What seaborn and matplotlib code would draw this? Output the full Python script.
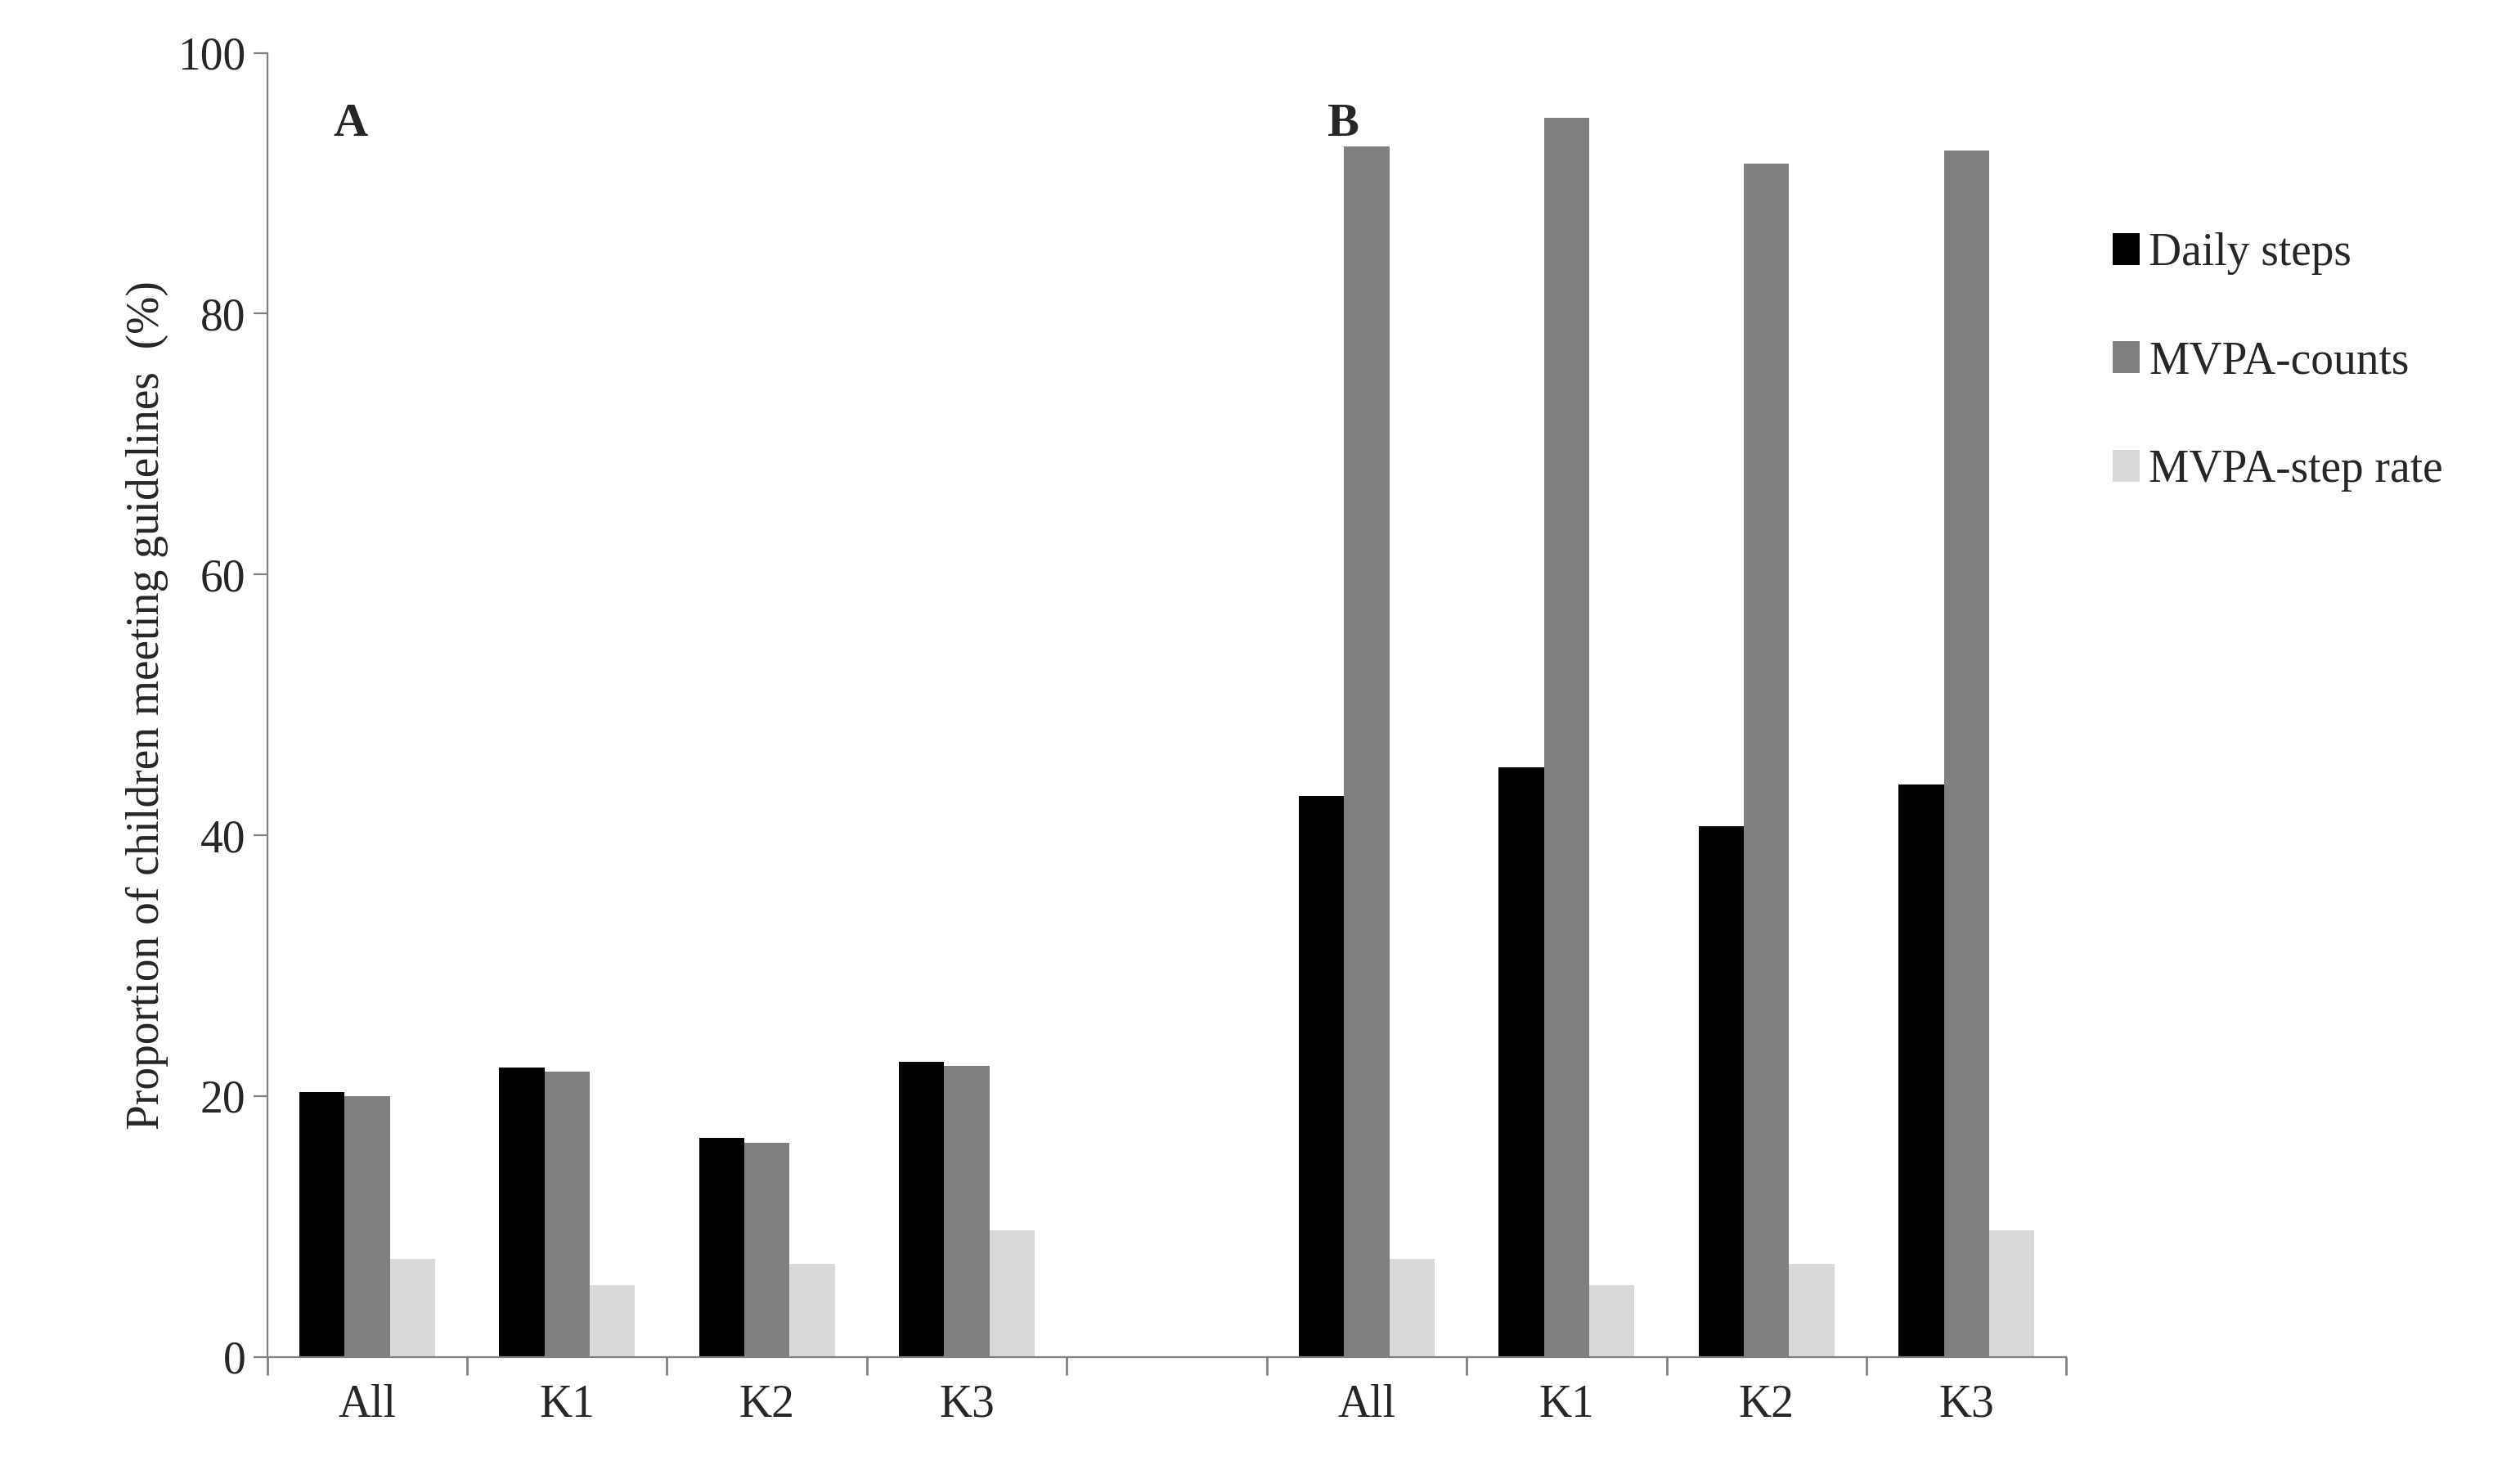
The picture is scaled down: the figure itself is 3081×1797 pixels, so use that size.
import pandas as pd
import matplotlib.pyplot as plt
import seaborn as sns

# ---------- data ----------
groups = ["All", "K1", "K2", "K3"]
measures = ["Daily steps", "MVPA-counts", "MVPA-step rate"]

a_daily = [20.3, 22.2, 16.8, 22.6]
a_counts = [20.0, 21.9, 16.4, 22.3]
a_steprate = [7.5, 5.5, 7.1, 9.7]

b_daily = [43.0, 45.2, 40.7, 43.9]
b_counts = [92.8, 95.0, 91.5, 92.5]
b_steprate = [7.5, 5.5, 7.1, 9.7]

# ---------- build long table ----------
rows = []
for panel, vals in [("A", [a_daily, a_counts, a_steprate]),
                    ("B", [b_daily, b_counts, b_steprate])]:
    for m, series in zip(measures, vals):
        for g, v in zip(groups, series):
            rows.append({"slot": f"{panel}_{g}", "measure": m, "value": v})
df = pd.DataFrame(rows)

order = [f"A_{g}" for g in groups] + ["gap"] + [f"B_{g}" for g in groups]
palette = {"Daily steps": "#000000", "MVPA-counts": "#808080", "MVPA-step rate": "#d9d9d9"}

# ---------- plot ----------
sns.set_style("ticks")
plt.rcParams["font.family"] = ["Liberation Serif", "DejaVu Serif"]

fig = plt.figure(figsize=(15.405, 8.985), dpi=200)
ax = fig.add_axes([0.106, 0.077, 0.714, 0.887])

sns.barplot(data=df, x="slot", y="value", hue="measure", order=order,
            hue_order=measures, palette=palette, width=0.68, saturation=1,
            linewidth=0, ax=ax, legend=True)

ax.set_xlim(-0.5, len(order) - 0.5)
ax.set_ylim(0, 100)
ax.set_yticks(range(0, 101, 20))
ax.tick_params(axis="y", labelsize=20, length=6, color="#808080", direction="out")

# labels at slot centres, ticks at slot boundaries
ax.set_xticks(range(len(order)))
ax.set_xticklabels(groups + [""] + groups, fontsize=20)
ax.tick_params(axis="x", which="major", length=0, pad=12)
ax.set_xticks([i - 0.5 for i in range(len(order) + 1)], minor=True)
ax.tick_params(axis="x", which="minor", length=8, width=1, color="#808080",
               bottom=True, direction="out")

ax.set_xlabel("")
ax.set_ylabel("Proportion of children meeting guidelines  (%)", fontsize=20)

for s in ["top", "right"]:
    ax.spines[s].set_visible(False)
for s in ["left", "bottom"]:
    ax.spines[s].set_color("#808080")

ax.text(-0.17, 94.5, "A", fontsize=21, fontweight="bold", va="center")
ax.text(4.8, 94.5, "B", fontsize=21, fontweight="bold", va="center")

handles, labels = ax.get_legend_handles_labels()
ax.get_legend().remove()
fig.legend(handles, labels, loc="upper left", bbox_to_anchor=(0.822, 0.87),
           frameon=False, fontsize=20, handlelength=0.6, handleheight=0.7,
           labelspacing=1.45, handletextpad=0.2)

fig.savefig("out.png", dpi=200)
